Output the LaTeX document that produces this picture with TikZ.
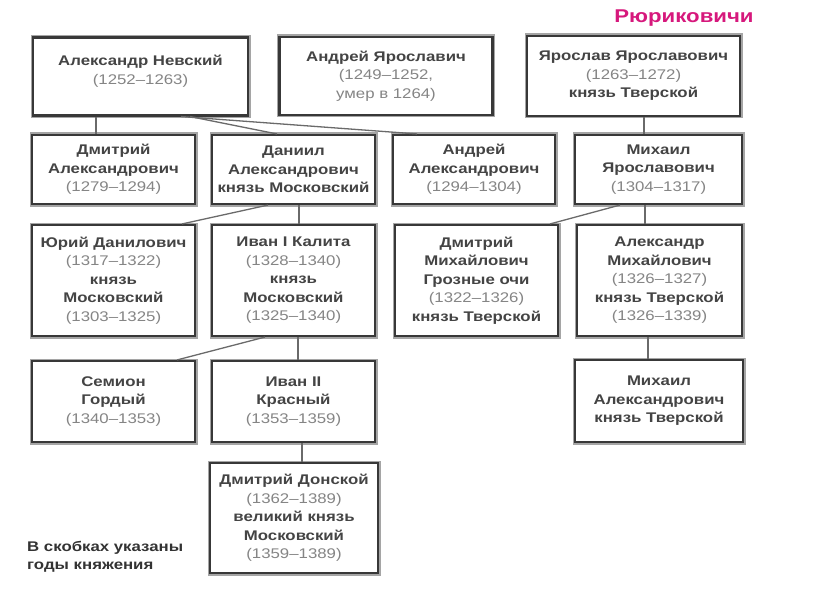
\documentclass[tikz,border=0pt]{standalone}
\usepackage{fontspec}
\setmainfont{Liberation Sans}[FakeStretch=1.2]
\definecolor{boxline}{HTML}{383838}
\definecolor{boxhalo}{HTML}{A5A5A5}
\definecolor{namecol}{HTML}{444444}
\definecolor{datecol}{HTML}{858585}
\definecolor{linkcol}{HTML}{6A6A6A}
\definecolor{titlecol}{HTML}{D6187C}
\newcommand{\yrs}[1]{{\mdseries\color{datecol}#1}}
\begin{document}
\begin{tikzpicture}[x=1pt,y=-1pt,
  person/.style={rectangle,draw=boxline,line width=2.1pt,
    preaction={draw=boxhalo,line width=5pt},fill=white,inner sep=0pt,
    align=center,text=namecol,font=\fontsize{14}{18.5}\selectfont\bfseries},
  toprow/.style={person,minimum width=213pt,minimum height=78pt},
  narrow/.style={person,minimum width=163pt},
  link/.style={draw=linkcol,line width=1.3pt}]
\useasboundingbox (0,0) rectangle (816,596);
% title
\node[font=\fontsize{18.5}{20}\selectfont\bfseries,text=titlecol] (title) at (684,18) {Рюриковичи};
% first generation
\node[toprow,minimum width=215pt,text depth=13pt] (nevsky) at (140.5,76.5) {Александр Невский\\\yrs{(1252–1263)}};
\node[toprow] (andreyY) at (386,76) {Андрей Ярославич\\\yrs{(1249–1252,}\\\yrs{умер в 1264)}};
\node[toprow,minimum height=80pt] (yaroslav) at (633.5,76) {Ярослав Ярославович\\\yrs{(1263–1272)}\\князь Тверской};
% second generation
\node[narrow,minimum height=69pt] (dmitriyA) at (113.5,169.5) {Дмитрий\\Александрович\\\yrs{(1279–1294)}};
\node[narrow,minimum height=69pt] (daniil) at (293.5,169.5) {Даниил\\Александрович\\князь Московский};
\node[narrow,minimum height=69pt,minimum width=162pt] (andreyA) at (474,169.5) {Андрей\\Александрович\\\yrs{(1294–1304)}};
\node[narrow,minimum height=69pt,minimum width=167pt] (mikhailY) at (658.5,169.5) {Михаил\\Ярославович\\\yrs{(1304–1317)}};
% third generation
\node[narrow,minimum height=111pt] (yuri) at (113.5,280.5) {Юрий Данилович\\\yrs{(1317–1322)}\\князь\\Московский\\\yrs{(1303–1325)}};
\node[narrow,minimum height=111pt] (ivan1) at (293.5,280.5) {Иван I Калита\\\yrs{(1328–1340)}\\князь\\Московский\\\yrs{(1325–1340)}};
\node[narrow,minimum height=111pt] (dmitriyM) at (476.5,280.5) {Дмитрий\\Михайлович\\Грозные очи\\\yrs{(1322–1326)}\\князь Тверской};
\node[narrow,minimum height=111pt,minimum width=165pt] (alexM) at (659.5,280.5) {Александр\\Михайлович\\\yrs{(1326–1327)}\\князь Тверской\\\yrs{(1326–1339)}};
% fourth generation
\node[narrow,minimum height=81pt] (semion) at (113.5,401.5) {Семион\\Гордый\\\yrs{(1340–1353)}};
\node[narrow,minimum height=81pt] (ivan2) at (293.5,401.5) {Иван II\\Красный\\\yrs{(1353–1359)}};
\node[narrow,minimum height=82pt,minimum width=168pt] (mikhailA) at (659,401) {Михаил\\Александрович\\князь Тверской};
% fifth generation
\node[narrow,minimum height=110pt,minimum width=168pt] (donskoy) at (294,518) {Дмитрий Донской\\\yrs{(1362–1389)}\\великий князь\\Московский\\\yrs{(1359–1389)}};
% note
\node[anchor=north west,align=left,inner sep=0pt,text=black!80,
  font=\fontsize{14}{18.5}\selectfont\bfseries] (note) at (27,541) {В скобках указаны\\годы княжения};
% links
\draw[link] ([xshift=-44.5pt]nevsky.south) -- ([xshift=-17.5pt]dmitriyA.north);
\draw[link] ([xshift=49.5pt]nevsky.south) -- ([xshift=-16.5pt]daniil.north);
\draw[link] ([xshift=40.5pt]nevsky.south) -- ([xshift=-57pt]andreyA.north);
\draw[link] ([xshift=10.5pt]yaroslav.south) -- ([xshift=-14.5pt]mikhailY.north);
\draw[link] ([xshift=-25.5pt]daniil.south) -- ([xshift=68.5pt]yuri.north);
\draw[link] ([xshift=5.5pt]daniil.south) -- ([xshift=5.5pt]ivan1.north);
\draw[link] ([xshift=-38.5pt]mikhailY.south) -- ([xshift=73.5pt]dmitriyM.north);
\draw[link] ([xshift=-13.5pt]mikhailY.south) -- ([xshift=-14.5pt]alexM.north);
\draw[link] ([xshift=-28.5pt]ivan1.south) -- ([xshift=63.5pt]semion.north);
\draw[link] ([xshift=4.5pt]ivan1.south) -- ([xshift=4.5pt]ivan2.north);
\draw[link] ([xshift=8.5pt]ivan2.south) -- ([xshift=8pt]donskoy.north);
\draw[link] ([xshift=-11.5pt]alexM.south) -- ([xshift=-11pt]mikhailA.north);
\end{tikzpicture}
\end{document}
